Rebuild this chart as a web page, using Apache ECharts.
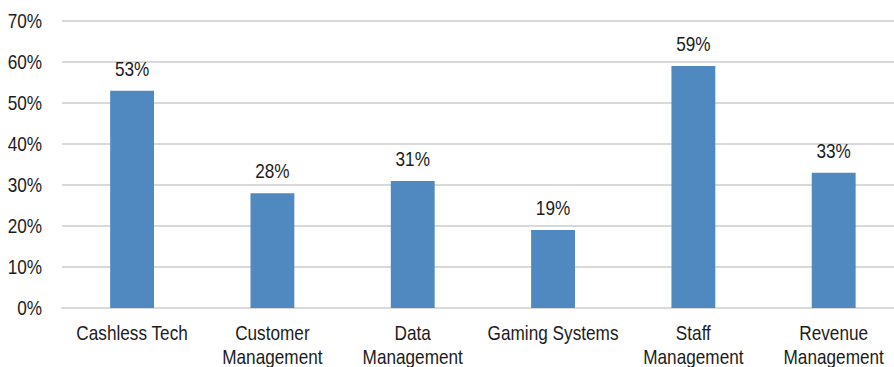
<!DOCTYPE html>
<html>
<head>
<meta charset="utf-8">
<script src="https://cdn.jsdelivr.net/npm/echarts@6/dist/echarts.min.js"></script>
<style>
  html, body { margin: 0; padding: 0; background: #ffffff; overflow: hidden; }
  /* The chart is laid out wider and squeezed horizontally so the labels
     take on a condensed, narrow-face look. */
  #chart { width: 1040px; height: 367px; transform: scaleX(0.86); transform-origin: 0 0; }
</style>
</head>
<body>
<div id="chart"></div>
<script>
// Share of respondents investing in each technology area
const categories = ['Cashless Tech', 'Customer\nManagement', 'Data\nManagement', 'Gaming Systems', 'Staff\nManagement', 'Revenue\nManagement'];
const shares = [53, 28, 31, 19, 59, 33];
const yTicks = [0, 10, 20, 30, 40, 50, 60, 70];

const chart = echarts.init(document.getElementById('chart'), null, { renderer: 'svg' });
const FONT = '"Liberation Sans", Arial, sans-serif';
const TEXT = '#1c1c1c';

chart.setOption({
  animation: false,
  grid: { left: 72, top: 21, width: 979, height: 287, outerBoundsMode: 'none', containLabel: false },
  xAxis: {
    type: 'category',
    data: categories,
    axisLine: { lineStyle: { color: '#d9d9d9', width: 2 } },
    axisTick: { alignWithLabel: false, length: 5, lineStyle: { color: '#d9d9d9', width: 2 } },
    axisLabel: { color: TEXT, fontFamily: FONT, fontSize: 20, lineHeight: 24, margin: 13, interval: 0 }
  },
  yAxis: {
    type: 'value',
    min: yTicks[0],
    max: yTicks[yTicks.length - 1],
    interval: 10,
    axisLine: { show: false },
    axisTick: { show: false },
    splitLine: { lineStyle: { color: '#d9d9d9', width: 2 } },
    axisLabel: { color: TEXT, fontFamily: FONT, fontSize: 20, margin: 23, formatter: v => v + '%' }
  },
  series: [{
    type: 'bar',
    data: shares,
    barWidth: 51,
    itemStyle: { color: '#4f89c0' },
    label: {
      show: true,
      position: 'top',
      distance: 12,
      color: TEXT,
      fontFamily: FONT,
      fontSize: 20,
      formatter: p => p.value + '%'
    }
  }]
});
</script>
</body>
</html>
